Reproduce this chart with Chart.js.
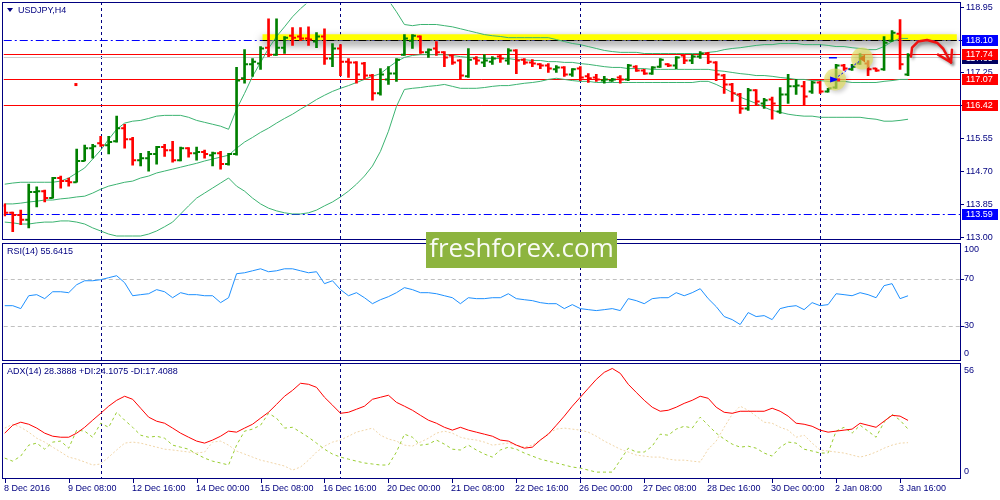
<!DOCTYPE html>
<html>
<head>
<meta charset="utf-8">
<script src="https://cdn.jsdelivr.net/npm/chart.js@4.4.0/dist/chart.umd.min.js"></script>
<style>
  html, body { margin: 0; padding: 0; background: #fff; }
  #wrap { position: relative; width: 1000px; height: 500px; }
</style>
</head>
<body>
<div id="wrap"><canvas id="c" width="1000" height="500"></canvas></div>
<script>
// ---- data (USDJPY H4) ----
const openP = [113.80,113.62,113.56,113.44,114.16,114.18,114.00,114.52,114.44,114.41,
  114.96,115.29,115.42,115.37,115.47,115.81,115.52,114.98,115.03,115.14,
  115.32,115.24,114.98,115.29,115.16,115.19,115.11,115.16,114.88,115.14,
  117.10,117.46,117.48,117.89,117.71,117.89,118.20,118.18,118.13,118.05,
  118.18,117.61,117.87,117.53,117.51,117.48,117.17,116.71,117.07,117.22,
  117.71,118.07,118.18,117.77,117.87,117.77,117.69,117.56,117.15,117.61,
  117.51,117.53,117.66,117.56,117.82,117.58,117.51,117.46,117.43,117.33,
  117.38,117.20,117.35,117.15,117.12,117.04,117.04,117.12,117.07,117.40,
  117.30,117.22,117.40,117.46,117.43,117.69,117.56,117.66,117.74,117.51,
  117.17,116.94,116.68,116.32,116.79,116.45,116.55,116.24,116.68,116.89,
  116.89,116.76,116.99,116.76,116.86,117.43,117.33,117.48,117.48,117.35,
  117.33,118.07,118.25,117.20];
const highP = [113.85,113.64,113.69,114.36,114.29,114.21,114.54,114.57,114.52,115.27,
  115.37,115.39,115.60,115.60,116.12,115.91,115.57,115.16,115.21,115.34,
  115.39,115.47,115.32,115.31,115.32,115.24,115.19,115.21,115.16,117.38,
  117.84,117.61,117.92,118.64,118.64,118.18,118.41,118.41,118.43,118.28,
  118.38,118.00,117.97,117.61,117.53,117.51,117.20,117.35,117.40,117.61,
  118.23,118.23,118.20,117.86,118.05,117.79,117.71,117.58,117.87,117.66,
  117.71,117.66,117.71,117.87,117.84,117.61,117.58,117.48,117.48,117.43,
  117.40,117.35,117.40,117.22,117.20,117.15,117.10,117.17,117.46,117.43,
  117.33,117.40,117.61,117.48,117.66,117.71,117.71,117.79,117.77,117.53,
  117.20,116.97,116.71,116.84,116.81,116.58,116.61,116.86,117.20,117.07,
  117.02,117.02,117.02,116.84,117.46,117.46,117.46,117.74,117.56,117.36,
  118.18,118.33,118.62,117.74];
const lowP = [113.54,113.13,113.31,113.23,113.77,113.90,114.00,114.26,114.31,114.41,
  114.96,115.03,115.34,115.14,115.45,115.29,114.85,114.83,114.70,114.88,
  115.08,114.93,114.96,115.06,114.98,115.03,114.83,114.75,114.85,115.11,
  116.97,117.15,117.33,117.66,117.69,117.74,117.95,118.07,117.95,117.89,
  117.46,117.40,117.17,117.12,116.97,117.07,116.53,116.66,116.94,117.02,
  117.69,117.87,117.74,117.64,117.69,117.40,117.46,117.07,117.12,117.46,
  117.40,117.46,117.51,117.46,117.22,117.46,117.40,117.35,117.25,117.25,
  117.15,117.15,117.04,116.99,117.02,116.97,117.02,116.97,117.04,117.28,
  117.20,117.20,117.38,117.40,117.35,117.48,117.48,117.61,117.48,117.04,
  116.71,116.50,116.19,116.27,116.40,116.32,116.04,116.19,116.45,116.68,
  116.40,116.71,116.71,116.74,116.84,117.30,117.30,117.46,117.17,117.28,
  117.30,118.05,117.33,117.17];
const closeP = [113.62,113.56,113.44,114.16,114.18,114.00,114.52,114.44,114.41,114.96,
  115.29,115.34,115.37,115.45,115.81,115.52,114.98,115.03,115.14,115.32,
  115.24,114.98,115.29,115.16,115.19,115.14,115.16,114.88,115.14,117.04,
  117.46,117.53,117.87,117.71,117.89,118.15,118.15,118.13,118.10,118.18,
  117.61,117.87,117.53,117.51,117.20,117.17,116.71,117.20,117.22,117.58,
  118.13,118.20,117.77,117.84,117.77,117.64,117.51,117.17,117.58,117.56,
  117.56,117.61,117.61,117.82,117.56,117.51,117.48,117.43,117.35,117.38,
  117.20,117.33,117.12,117.10,117.07,117.07,117.07,117.07,117.43,117.30,
  117.22,117.38,117.58,117.43,117.64,117.56,117.66,117.74,117.53,117.20,
  116.94,116.71,116.32,116.79,116.50,116.53,116.45,116.68,116.89,116.91,
  116.63,116.99,116.76,116.84,117.43,117.35,117.40,117.66,117.33,117.30,
  118.02,118.28,117.46,117.69];

// Bollinger bands (20)
const bbUpper = [114.36,114.39,114.41,114.41,114.41,114.41,114.41,114.44,114.52,114.65,
  114.78,115.01,115.24,115.52,115.78,115.94,115.99,116.01,116.06,116.12,
  116.14,116.14,116.14,116.09,116.01,115.96,115.91,115.86,115.78,116.30,
  116.71,117.15,117.51,117.87,118.18,118.43,118.69,118.90,119.08,119.18,
  119.27,119.33,119.37,119.38,119.36,119.33,119.27,119.20,119.12,118.82,
  118.49,118.46,118.49,118.49,118.49,118.46,118.43,118.38,118.33,118.28,
  118.23,118.20,118.18,118.15,118.15,118.15,118.15,118.15,118.15,118.10,
  118.05,118.00,117.97,117.92,117.87,117.82,117.79,117.77,117.77,117.77,
  117.74,117.74,117.74,117.74,117.74,117.74,117.74,117.74,117.77,117.79,
  117.84,117.87,117.89,117.92,117.95,117.97,117.97,118.00,118.00,118.00,
  117.97,117.97,117.97,117.95,117.92,117.92,117.89,117.87,117.84,117.84,
  117.92,118.05,118.13,118.13];
const bbMiddle = [113.85,113.85,113.87,113.90,113.92,113.95,113.95,113.98,114.00,114.03,
  114.05,114.13,114.23,114.31,114.36,114.41,114.44,114.52,114.57,114.65,
  114.70,114.75,114.80,114.85,114.90,114.96,115.01,115.06,115.11,115.29,
  115.45,115.57,115.70,115.81,115.94,116.06,116.17,116.30,116.42,116.55,
  116.66,116.76,116.84,116.91,116.99,117.07,117.15,117.22,117.38,117.53,
  117.64,117.69,117.71,117.71,117.71,117.71,117.69,117.66,117.64,117.64,
  117.61,117.61,117.61,117.61,117.58,117.58,117.56,117.56,117.53,117.53,
  117.51,117.51,117.48,117.46,117.43,117.40,117.38,117.38,117.35,117.35,
  117.35,117.33,117.33,117.33,117.33,117.33,117.33,117.33,117.33,117.30,
  117.28,117.25,117.22,117.20,117.17,117.17,117.15,117.12,117.10,117.07,
  117.07,117.04,117.04,117.02,117.02,117.02,116.99,116.99,116.99,116.99,
  117.02,117.04,117.07,117.07];
const bbLower = [113.38,113.36,113.33,113.33,113.36,113.38,113.38,113.41,113.41,113.38,
  113.33,113.23,113.15,113.07,113.02,113.02,113.02,113.02,113.07,113.15,
  113.26,113.38,113.59,113.80,114.00,114.13,114.26,114.39,114.52,114.31,
  114.18,114.00,113.85,113.74,113.67,113.62,113.59,113.59,113.62,113.69,
  113.80,113.90,114.03,114.18,114.36,114.57,114.83,115.21,115.73,116.37,
  116.81,116.84,116.86,116.89,116.91,116.94,116.89,116.84,116.84,116.84,
  116.86,116.89,116.91,116.91,116.94,116.97,116.99,117.02,117.07,117.10,
  117.07,117.04,117.02,117.02,116.99,116.99,116.99,116.99,116.99,116.99,
  116.99,116.99,116.99,116.99,116.99,116.99,116.99,117.02,117.02,116.94,
  116.84,116.73,116.61,116.53,116.45,116.35,116.27,116.22,116.17,116.14,
  116.12,116.12,116.09,116.09,116.09,116.09,116.09,116.09,116.06,116.04,
  115.99,115.99,116.01,116.04];

// RSI(14)
const rsi = [47.2,47.2,44.7,55.7,56.6,53.2,59.1,59.1,58.3,65.1,
  68.5,68.5,69.4,71.1,72.8,66.8,55.7,56.6,57.4,60.9,
  59.1,54.0,58.3,56.6,56.6,55.7,55.7,49.8,54.0,74.5,
  75.3,77.0,78.7,76.2,77.0,78.7,78.7,77.0,75.3,76.2,
  66.0,68.5,60.9,55.7,58.3,54.0,48.9,52.3,54.9,58.3,
  62.6,60.9,58.3,58.3,57.4,55.7,54.0,48.9,54.0,53.2,
  53.2,54.0,54.0,57.4,53.2,52.3,51.5,49.8,48.9,48.9,
  44.7,48.1,44.7,43.8,43.0,43.8,44.7,43.0,53.2,51.5,
  48.9,53.2,54.0,54.0,58.3,55.7,58.3,61.7,53.2,46.4,
  37.9,35.3,31.1,41.3,37.9,38.7,35.3,44.7,46.4,47.2,
  43.8,49.8,47.2,48.1,57.4,56.6,55.7,58.3,56.6,54.0,
  64.3,66.0,53.2,55.64];

// ADX(14), +DI, -DI
const adx = [22.1,26.0,27.5,26.5,24.6,22.1,20.6,20.1,20.1,22.1,
  25.0,28.5,31.9,35.4,38.3,40.3,38.8,34.4,30.0,28.0,
  27.0,24.6,22.1,20.1,18.2,17.2,18.7,20.6,23.1,22.6,
  24.6,26.5,29.5,32.4,36.3,40.3,43.2,46.7,46.2,44.7,
  39.8,35.9,31.9,32.4,33.9,35.4,38.8,39.8,40.8,37.3,
  35.4,33.4,30.9,28.5,27.0,25.0,23.6,25.0,23.6,22.6,
  21.6,20.6,18.7,18.2,16.2,14.7,15.2,18.7,21.6,26.0,
  30.5,35.4,39.8,44.2,48.6,52.1,54.0,51.6,46.2,42.2,
  38.3,34.9,32.9,33.4,34.9,36.8,38.3,40.3,39.3,34.9,
  32.4,31.9,32.9,32.9,32.9,32.9,34.4,32.9,30.5,27.0,
  26.5,25.5,23.6,22.6,23.1,23.6,24.1,27.0,26.0,25.0,
  28.0,30.9,30.5,28.39];
const plusDI = [9.8,8.3,10.8,16.2,17.2,14.2,17.7,18.2,14.7,23.6,
  23.1,20.1,27.0,25.0,32.4,28.5,25.0,21.1,20.1,20.6,
  19.6,16.2,15.2,14.2,11.8,9.8,8.3,7.4,6.4,16.2,
  23.1,24.1,26.0,31.9,29.5,24.6,25.0,22.6,20.1,17.2,
  14.2,11.8,10.3,9.3,8.3,7.4,6.9,6.4,6.4,12.8,
  21.6,20.1,16.2,16.7,18.7,16.7,14.2,13.8,16.2,13.8,
  11.8,10.3,13.8,15.2,14.2,12.3,10.8,9.3,8.3,7.4,
  6.4,5.4,4.9,3.9,2.9,2.9,2.9,8.8,14.7,12.8,
  12.8,15.7,21.6,21.1,24.1,25.5,24.6,30.0,26.0,22.1,
  19.2,16.7,15.2,15.7,14.7,12.3,10.8,15.2,17.7,17.2,
  14.2,13.3,12.3,12.3,23.1,25.0,22.1,26.0,23.1,20.1,
  27.5,31.4,28.5,24.11];
const minusDI = [24.6,26.5,25.0,22.6,19.6,17.7,15.2,12.8,10.3,9.3,
  7.9,6.4,6.9,10.3,13.8,17.2,17.7,17.2,16.2,15.2,
  14.2,13.8,13.3,12.8,12.3,12.8,17.7,18.2,16.2,13.3,
  11.8,10.3,8.8,7.9,6.9,5.9,3.9,5.4,8.8,12.8,
  15.7,17.7,18.7,20.6,22.6,23.6,24.6,21.1,19.2,18.2,
  16.2,15.7,17.7,19.6,22.1,23.1,22.1,20.1,19.2,18.7,
  17.7,16.2,16.7,17.2,16.2,15.2,16.2,18.7,22.1,24.1,
  24.6,24.1,23.6,22.6,20.6,18.2,16.2,14.2,12.8,11.3,
  10.8,10.3,10.3,9.3,8.8,8.8,8.3,7.9,14.2,18.2,
  25.0,31.4,35.4,33.4,30.5,27.5,27.0,25.0,23.6,20.1,
  21.1,17.2,13.8,13.3,12.8,12.3,11.3,10.3,11.3,12.8,
  14.7,16.2,17.2,17.41];

// axes and levels
const timeLabels = ["8 Dec 2016","9 Dec 08:00","12 Dec 16:00","14 Dec 00:00","15 Dec 08:00",
  "16 Dec 16:00","20 Dec 00:00","21 Dec 08:00","22 Dec 16:00","26 Dec 00:00",
  "27 Dec 08:00","28 Dec 16:00","30 Dec 00:00","2 Jan 08:00","3 Jan 16:00"];
const timeLabelBars = [0,8,16,24,32,40,48,56,64,72,80,88,96,104,112];
const separatorBars = [12,42,72,102];
const priceTicks = [118.95,118.10,117.25,116.40,115.55,114.70,113.85,113.00];
const rsiTicks = [100,70,30,0];
const rsiLevels = [70,30];
const adxTicks = [56,0];
const redLevels = [117.74,117.07,116.42];
const blueLevels = [118.10,113.59];
const bidPrice = 117.65;
const yellowZone = { from: 32.25, to: 119.1, level: 118.16 };

// ---- drawing ----
const NAVY = '#000080';
const PANES = [[2,239],[243,360],[363,478]];
const FONT = '9px "Liberation Sans", Arial, sans-serif';
const TICK = 0.22;
const barColors = closeP.map((c, i) => c >= openP[i] ? '#008000' : '#ff0000');
const xy = arr => arr.map((v, i) => ({ x: i, y: v }));

function lineSet(data, axis, color, dash) {
  return { type: 'line', data: xy(data), yAxisID: axis, borderColor: color, borderWidth: 1,
    borderDash: dash || [], pointRadius: 0, tension: 0, fill: false };
}
function tickSet(values, shift) {
  return { type: 'line', showLine: false, yAxisID: 'yP',
    data: values.map((v, i) => ({ x: i + shift, y: v })),
    pointStyle: 'line', pointRadius: 1.75, pointHoverRadius: 1.75, pointBorderWidth: 2,
    pointBorderColor: barColors, pointBackgroundColor: barColors };
}
function hLine(c, x1, x2, y, color, dash) {
  c.save(); c.beginPath(); c.strokeStyle = color; c.lineWidth = 1; c.setLineDash(dash || []);
  const yy = Math.round(y) + 0.5; c.moveTo(x1, yy); c.lineTo(x2, yy); c.stroke(); c.restore();
}
function vLine(c, x, y1, y2, color, dash) {
  c.save(); c.beginPath(); c.strokeStyle = color; c.lineWidth = 1; c.setLineDash(dash || []);
  const xx = Math.round(x) + 0.5; c.moveTo(xx, y1); c.lineTo(xx, y2); c.stroke(); c.restore();
}

const backdrop = {
  id: 'backdrop',
  beforeDatasetsDraw(chart) {
    const { ctx, chartArea: a, scales: { x, yP, yR } } = chart;
    rsiLevels.forEach(v => hLine(ctx, a.left, a.right, yR.getPixelForValue(v), '#c0c0c0', [4, 3]));
    separatorBars.forEach(b => {
      PANES.forEach(([t, bt]) => vLine(ctx, x.getPixelForValue(b), t, bt, NAVY, [3, 3]));
    });
    hLine(ctx, a.left, a.right, yP.getPixelForValue(bidPrice), '#cccccc');
    redLevels.forEach(v => hLine(ctx, a.left, a.right, yP.getPixelForValue(v), '#ff0000'));
    blueLevels.forEach(v => hLine(ctx, a.left, a.right, yP.getPixelForValue(v), '#0000ff', [8, 3, 2, 3]));
    // yellow highlight with shadow
    const x1 = x.getPixelForValue(yellowZone.from), x2 = x.getPixelForValue(yellowZone.to);
    const yz = yP.getPixelForValue(yellowZone.level);
    ctx.save();
    ctx.shadowColor = 'rgba(0,0,0,0.5)'; ctx.shadowBlur = 8; ctx.shadowOffsetY = 4;
    ctx.fillStyle = '#ffff00';
    ctx.fillRect(x1, yz - 3, x2 - x1, 6);
    ctx.restore();
    hLine(ctx, x1, x2, yP.getPixelForValue(118.10), '#000000', [8, 3, 2, 3]);
  }
};

const overlay = {
  id: 'overlay',
  afterDatasetsDraw(chart) {
    const { ctx, scales: { x, yP } } = chart;
    const P = (i, p) => [x.getPixelForValue(i), yP.getPixelForValue(p)];

    // markers near 2 Jan
    ctx.save();
    [[103.875, 117.07], [107.25, 117.61]].forEach(([i, p]) => {
      const [cx, cy] = P(i, p);
      ctx.shadowColor = 'rgba(0,0,0,0.3)'; ctx.shadowBlur = 4; ctx.shadowOffsetX = 2; ctx.shadowOffsetY = 2;
      ctx.fillStyle = 'rgba(228,222,90,0.65)';
      ctx.beginPath(); ctx.arc(cx, cy, 11, 0, Math.PI * 2); ctx.fill();
    });
    ctx.shadowColor = 'transparent';
    let [ax, ay] = P(103.875, 117.07), [bx, by] = P(107.25, 117.61);
    ctx.strokeStyle = '#0000ff'; ctx.setLineDash([2, 2]); ctx.lineWidth = 1;
    ctx.beginPath(); ctx.moveTo(ax + 3, ay - 3); ctx.lineTo(bx - 3, by + 3); ctx.stroke();
    ctx.setLineDash([]);
    ctx.fillStyle = '#0000ff';
    ctx.beginPath(); ctx.moveTo(ax - 5, ay - 3); ctx.lineTo(ax + 4, ay); ctx.lineTo(ax - 5, ay + 3); ctx.closePath(); ctx.fill();
    ctx.fillStyle = '#ff2020'; ctx.fillRect(ax + 2, ay - 1, 3, 3);
    ctx.fillStyle = '#d08020';
    ctx.beginPath(); ctx.moveTo(bx + 3, by - 4); ctx.lineTo(bx - 3, by); ctx.lineTo(bx + 3, by + 4); ctx.closePath(); ctx.fill();
    const [dx, dy] = P(103.6, 117.64);
    ctx.fillStyle = '#0000ff'; ctx.fillRect(dx - 4, Math.round(dy), 8, 1.5);
    const [rx, ry] = P(8.84, 116.95);
    ctx.fillStyle = '#ff0000'; ctx.fillRect(rx - 1, ry - 1, 3, 3);

    // red curved arrow
    const pts = [[113.375, 117.66], [113.5, 117.89], [114.25, 118.05], [115.375, 118.09],
      [116.625, 118.02], [117.375, 117.87], [118.0, 117.64], [118.375, 117.51]].map(q => P(q[0], q[1]));
    ctx.shadowColor = 'rgba(0,0,0,0.35)'; ctx.shadowBlur = 3; ctx.shadowOffsetX = 2; ctx.shadowOffsetY = 2;
    ctx.strokeStyle = '#ee1111'; ctx.lineWidth = 2.5; ctx.lineJoin = 'round'; ctx.lineCap = 'round';
    ctx.beginPath(); ctx.moveTo(pts[0][0], pts[0][1]);
    for (let k = 1; k < pts.length; k++) ctx.lineTo(pts[k][0], pts[k][1]);
    ctx.stroke();
    const tip = pts[pts.length - 1], b1 = P(116.75, 117.71), b2 = P(118.5, 117.84);
    ctx.beginPath(); ctx.moveTo(b1[0], b1[1]); ctx.lineTo(tip[0], tip[1]); ctx.lineTo(b2[0], b2[1]); ctx.stroke();
    ctx.restore();
  },
  afterDraw(chart) {
    const { ctx, scales: { x, yP, yR, yA } } = chart;
    ctx.save();
    // pane frames
    ctx.strokeStyle = NAVY; ctx.lineWidth = 1;
    PANES.forEach(([t, b]) => ctx.strokeRect(2.5, t + 0.5, 958, b - t));

    ctx.font = FONT; ctx.textBaseline = 'middle'; ctx.textAlign = 'left';
    // price scale
    priceTicks.forEach(v => {
      const y = Math.round(yP.getPixelForValue(v)) + 0.5;
      ctx.strokeStyle = NAVY; ctx.beginPath(); ctx.moveTo(961, y); ctx.lineTo(964, y); ctx.stroke();
      ctx.fillStyle = NAVY; ctx.fillText(v.toFixed(2), 966, y);
    });
    const box = (v, bg, dy) => {
      const y = yP.getPixelForValue(v) + (dy || 0);
      ctx.fillStyle = bg; ctx.fillRect(962, Math.round(y) - 5, 36, 11);
      ctx.fillStyle = '#ffffff'; ctx.fillText(v.toFixed(2), 966, Math.round(y) + 0.5);
    };
    box(bidPrice, '#000060', 1.5);
    redLevels.forEach(v => box(v, '#ff0000'));
    blueLevels.forEach(v => box(v, '#0000ff'));

    // RSI scale
    rsiTicks.forEach(v => {
      const y = yR.getPixelForValue(v);
      const off = v === 100 ? 6 : (v === 0 ? -7 : 0);
      if (v === 70 || v === 30) { ctx.strokeStyle = NAVY; ctx.beginPath(); ctx.moveTo(961, Math.round(y) + 0.5); ctx.lineTo(964, Math.round(y) + 0.5); ctx.stroke(); }
      ctx.fillStyle = NAVY; ctx.fillText(String(v), 964, y + off);
    });
    // ADX scale
    adxTicks.forEach(v => {
      const y = yA.getPixelForValue(v);
      ctx.fillStyle = NAVY; ctx.fillText(String(v), 964, y + (v === 0 ? -6 : 6));
    });

    // titles
    ctx.fillStyle = NAVY;
    ctx.beginPath(); ctx.moveTo(7, 8); ctx.lineTo(13, 8); ctx.lineTo(10, 12); ctx.closePath(); ctx.fill();
    ctx.fillText('USDJPY,H4', 18, 10.5);
    ctx.fillText('RSI(14) 55.6415', 7, 251.5);
    ctx.fillText('ADX(14) 28.3888 +DI:24.1075 -DI:17.4088', 7, 371.5);

    // time axis
    timeLabelBars.forEach((b, k) => {
      const px = Math.round(x.getPixelForValue(b)) + 0.5;
      ctx.strokeStyle = NAVY; ctx.beginPath(); ctx.moveTo(px, 479); ctx.lineTo(px, 483); ctx.stroke();
      ctx.fillStyle = NAVY; ctx.fillText(timeLabels[k], px - 1.5, 488.5);
    });

    // watermark
    ctx.fillStyle = '#8db43f';
    ctx.fillRect(426, 232, 191, 36);
    ctx.fillStyle = 'rgba(255,255,255,0.95)';
    ctx.font = '26px "Open Sans", "Noto Sans", sans-serif';
    ctx.textAlign = 'center';
    ctx.fillText('freshforex.com', 521.5, 250);
    ctx.restore();
  }
};

const chart = new Chart(document.getElementById('c').getContext('2d'), {
  data: {
    datasets: [
      { type: 'bar', yAxisID: 'yP', data: highP.map((h, i) => ({ x: i, y: [lowP[i], h] })),
        backgroundColor: barColors, borderWidth: 0, barThickness: 2 },
      tickSet(openP, -TICK),
      tickSet(closeP, TICK),
      lineSet(bbUpper, 'yP', '#3cb371'),
      lineSet(bbMiddle, 'yP', '#3cb371'),
      lineSet(bbLower, 'yP', '#3cb371'),
      lineSet(rsi, 'yR', '#1e90ff'),
      lineSet(adx, 'yA', '#ff0000'),
      lineSet(plusDI, 'yA', '#9acd32', [3, 3]),
      lineSet(minusDI, 'yA', '#f0d5a8', [2, 2])
    ]
  },
  options: {
    responsive: false,
    animation: false,
    devicePixelRatio: 1,
    events: [],
    layout: { padding: { left: 3, right: 40, top: 2, bottom: 22 } },
    plugins: { legend: { display: false }, tooltip: { enabled: false } },
    scales: {
      x: { type: 'linear', min: -0.125, max: 119.5, offset: false, display: false },
      yP: { type: 'linear', min: 106.761, max: 119.027, display: false },
      yR: { type: 'linear', min: -100, max: 305.1, display: false },
      yA: { type: 'linear', min: 0, max: 233.8, display: false }
    }
  },
  plugins: [backdrop, overlay]
});
</script>
</body>
</html>
